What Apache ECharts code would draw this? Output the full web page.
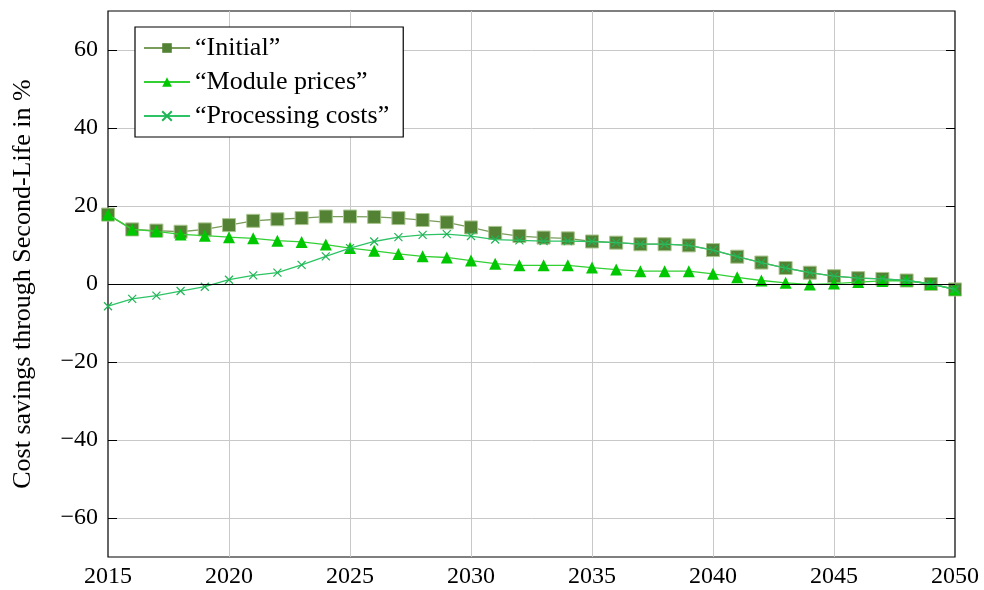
<!DOCTYPE html>
<html>
<head>
<meta charset="utf-8">
<script src="https://cdn.jsdelivr.net/npm/echarts@6/dist/echarts.min.js"></script>
<style>
  html, body { margin: 0; padding: 0; background: #ffffff; }
  #chart { width: 984px; height: 590px; }
</style>
</head>
<body>
<div id="chart"></div>
<script>
// Years on the horizontal axis
const years = [2015, 2016, 2017, 2018, 2019, 2020, 2021, 2022, 2023, 2024,
               2025, 2026, 2027, 2028, 2029, 2030, 2031, 2032, 2033, 2034,
               2035, 2036, 2037, 2038, 2039, 2040, 2041, 2042, 2043, 2044,
               2045, 2046, 2047, 2048, 2049, 2050];

// Cost savings (%) per scenario
const initial = [17.8, 14.0, 13.7, 13.4, 14.0, 15.1, 16.2, 16.6, 16.9, 17.3,
                 17.3, 17.2, 16.9, 16.4, 15.8, 14.5, 13.1, 12.3, 11.9, 11.7,
                 10.9, 10.6, 10.2, 10.2, 9.9, 8.7, 7.0, 5.5, 4.1, 2.9,
                 2.0, 1.5, 1.3, 0.9, 0.0, -1.4];
const modulePrices = [17.8, 14.0, 13.5, 12.7, 12.4, 12.0, 11.7, 11.1, 10.8, 10.1,
                      9.2, 8.5, 7.7, 7.1, 6.8, 6.0, 5.2, 4.8, 4.8, 4.8,
                      4.2, 3.7, 3.3, 3.3, 3.3, 2.6, 1.7, 0.9, 0.3, -0.1,
                      0.1, 0.5, 0.8, 0.9, 0.0, -1.4];
const processingCosts = [-5.7, -3.8, -3.0, -1.8, -0.7, 1.1, 2.2, 2.9, 4.9, 7.1,
                         9.2, 10.9, 12.0, 12.6, 12.8, 12.3, 11.4, 11.2, 11.0, 11.0,
                         10.9, 10.6, 10.2, 10.2, 9.9, 8.7, 7.0, 5.5, 4.1, 2.9,
                         2.0, 1.5, 1.3, 0.9, 0.0, -1.4];

const seriesNames = ['\u201CInitial\u201D', '\u201CModule prices\u201D', '\u201CProcessing costs\u201D'];

// Axis ranges and tick positions
const yRange = { min: -70, max: 70, interval: 10 };
const yTickValues = [-60, -40, -20, 0, 20, 40, 60];
const xRange = { min: 2015, max: 2050, interval: 5 };

const pairs = vals => years.map((y, i) => [y, vals[i]]);
const FONT = '"Liberation Serif", "DejaVu Serif", serif';
const minus = v => String(v).replace('-', '\u2212');

// shared settings for the left and right value axes
const yAxisBase = {
  type: 'value',
  min: yRange.min, max: yRange.max, interval: yRange.interval,
  z: 6,
  axisLine: { show: false },
  axisTick: { show: true, inside: true, length: 9, customValues: yTickValues,
              lineStyle: { color: '#000', width: 1 } },
  splitLine: { show: false }
};

const chart = echarts.init(document.getElementById('chart'), null, { renderer: 'canvas' });

chart.setOption({
  animation: false,
  backgroundColor: '#ffffff',
  textStyle: { fontFamily: FONT },
  grid: {
    left: 108, right: 29, top: 11, bottom: 33,
    outerBoundsMode: 'none',
    containLabel: false,
    show: true, borderColor: '#000000', borderWidth: 1.2, backgroundColor: 'transparent'
  },
  legend: {
    left: 135, top: 27,
    z: 20,
    orient: 'vertical',
    backgroundColor: '#ffffff',
    borderColor: '#000000', borderWidth: 1.2, borderRadius: 0,
    padding: [8, 14, 8, 8],
    itemGap: 8,
    itemWidth: 46, itemHeight: 12,
    textStyle: { fontFamily: FONT, fontSize: 26, color: '#000000' },
    data: [
      { name: seriesNames[0], itemStyle: { borderWidth: 0 } },
      { name: seriesNames[1] },
      { name: seriesNames[2] }
    ]
  },
  xAxis: {
    type: 'value',
    min: xRange.min, max: xRange.max, interval: xRange.interval,
    axisLine: { show: false },
    axisTick: { show: false },
    axisLabel: { fontFamily: FONT, fontSize: 24, color: '#000', margin: 8, formatter: v => String(v) },
    splitLine: { show: true, showMinLine: false, showMaxLine: false,
                 lineStyle: { color: '#c8c8c8', width: 1 } }
  },
  yAxis: [
    Object.assign({}, yAxisBase, {
      position: 'left',
      name: 'Cost savings through Second-Life in %',
      nameLocation: 'middle',
      nameGap: 72,
      nameTextStyle: { fontFamily: FONT, fontSize: 26, color: '#000' },
      axisLabel: {
        fontFamily: FONT, fontSize: 24, color: '#000', margin: 10,
        customValues: yTickValues,
        formatter: v => (yTickValues.indexOf(v) >= 0) ? minus(v) : ''
      }
    }),
    Object.assign({}, yAxisBase, {
      position: 'right',
      axisLabel: { show: false }
    })
  ],
  series: [
    {
      // horizontal grid lines and the zero reference line
      name: 'grid',
      type: 'line',
      data: [],
      z: 1,
      silent: true,
      markLine: {
        silent: true, symbol: 'none', label: { show: false }, animation: false,
        data: yTickValues.map(v => ({
          yAxis: v,
          lineStyle: v === 0
            ? { color: '#000000', width: 1.2, type: 'solid' }
            : { color: '#c8c8c8', width: 1, type: 'solid' }
        }))
      }
    },
    {
      name: seriesNames[0],
      type: 'line',
      data: pairs(initial),
      symbol: 'rect', symbolSize: 13,
      lineStyle: { color: '#7a9d5c', width: 1.3 },
      itemStyle: { color: '#548235', borderColor: '#a8c58e', borderWidth: 1 },
      z: 2
    },
    {
      name: seriesNames[1],
      type: 'line',
      data: pairs(modulePrices),
      symbol: 'triangle', symbolSize: 12,
      lineStyle: { color: '#33d033', width: 1.3 },
      itemStyle: { color: '#00c800', borderColor: '#00c800', borderWidth: 0 },
      z: 3
    },
    {
      name: seriesNames[2],
      type: 'line',
      data: pairs(processingCosts),
      symbol: 'path://M0,0L10,10M10,0L0,10', symbolSize: 8,
      lineStyle: { color: '#2ec466', width: 1.3 },
      itemStyle: { color: 'transparent', borderColor: '#1fb455', borderWidth: 1.2 },
      z: 4
    }
  ]
});
</script>
</body>
</html>
